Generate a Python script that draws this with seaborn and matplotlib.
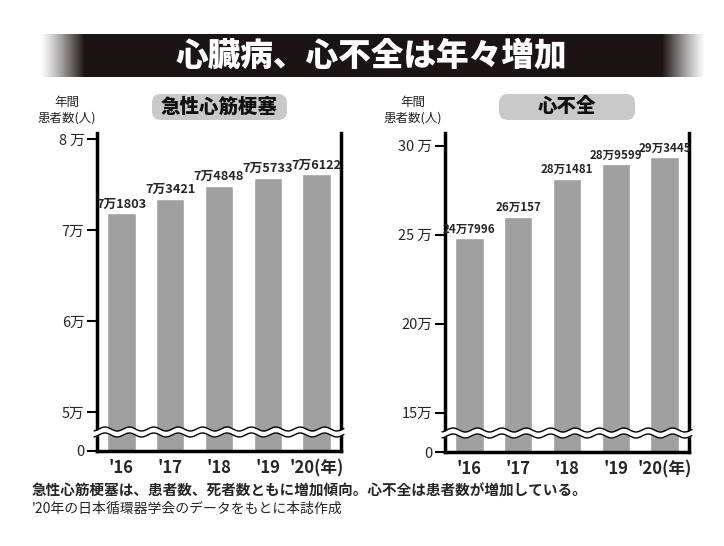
import numpy as np
import matplotlib
matplotlib.use("Agg")
import matplotlib.pyplot as plt
from matplotlib.patches import FancyBboxPatch
from matplotlib.transforms import IdentityTransform
import seaborn as sns

# ---------------- data ----------------
years = ["'16", "'17", "'18", "'19", "'20(年)"]
ami_values = [71803, 73421, 74848, 75733, 76122]          # 急性心筋梗塞
hf_values = [247996, 260157, 281481, 289599, 293445]      # 心不全
ami_ticks = [0, 50000, 60000, 70000, 80000]
ami_ticklabels = ["0", "5万", "6万", "7万", "8 万"]
hf_ticks = [0, 150000, 200000, 250000, 300000]
hf_ticklabels = ["0", "15万", "20万", "25 万", "30 万"]
title = "心臓病、心不全は年々増加"
panel_titles = ["急性心筋梗塞", "心不全"]
ylabel = "年間\n患者数(人)"
caption1 = "急性心筋梗塞は、患者数、死者数ともに増加傾向。心不全は患者数が増加している。"
caption2 = "'20年の日本循環器学会のデータをもとに本誌作成"

sns.set_theme(style="white")
CJK = ["Noto Sans CJK JP", "DejaVu Sans"]
plt.rcParams["font.family"] = CJK

W, H = 724, 546
fig = plt.figure(figsize=(W / 100, H / 100), dpi=100)
fig.patch.set_facecolor("white")


def px_rect(x0, y0, x1, y1):
    return [x0 / W, 1 - y1 / H, (x1 - x0) / W, (y1 - y0) / H]


# ---------------- banner ----------------
bax = fig.add_axes(px_rect(40, 34, 705, 77))
bax.set_axis_off()
n = 665
xs = np.arange(n) + 40
alpha = np.ones(n)
alpha = np.where(xs < 84, (xs - 40) / 44.0, alpha)
alpha = np.where(xs > 662, (705 - xs) / 43.0, alpha)
alpha = np.clip(alpha, 0, 1) ** 1.2
rgba = np.zeros((1, n, 4))
rgba[..., 0] = 0.11
rgba[..., 1] = 0.08
rgba[..., 2] = 0.08
rgba[..., 3] = alpha
bax.imshow(rgba, aspect="auto", extent=(0, 1, 0, 1))
bax.set_xlim(0, 1)
bax.set_ylim(0, 1)
fig.text(371 / W, 1 - 56 / H, title, color="white", fontsize=23.5,
         fontweight="black", ha="center", va="center")


def make_scale(base, unit, gap):
    def fwd(v):
        v = np.asarray(v, dtype=float)
        return np.where(v <= base, v / base * gap, gap + (v - base) / unit)

    def inv(t):
        t = np.asarray(t, dtype=float)
        return np.where(t <= gap, t / gap * base, base + (t - gap) * unit)

    return fwd, inv


def fmt(v):
    return f"{v // 10000}万{v % 10000}"


panels = [
    dict(rect=px_rect(97, 133, 341, 451), vals=ami_values, ticks=ami_ticks,
         tlabels=ami_ticklabels, scale=(50000, 10000, 0.43), ymax=80650,
         title=panel_titles[0], box=(152, 94, 287, 120), ylab_x=67, lfs=9.2),
    dict(rect=px_rect(445, 133, 689, 452), vals=hf_values, ticks=hf_ticks,
         tlabels=hf_ticklabels, scale=(150000, 50000, 0.44), ymax=307200,
         title=panel_titles[1], box=(499, 94, 635, 120), ylab_x=413, lfs=8.3),
]

for p in panels:
    ax = fig.add_axes(p["rect"])
    fwd, inv = make_scale(*p["scale"])
    ax.set_yscale("function", functions=(fwd, inv))
    sns.barplot(x=years, y=p["vals"], color="#a0a0a0", saturation=1,
                width=0.58, ax=ax, zorder=2)
    ax.set_xlim(-0.5, 4.5)
    ax.set_ylim(0, p["ymax"])
    ax.set_yticks(p["ticks"])
    ax.set_yticklabels(p["tlabels"], fontsize=10.5)
    ax.set_xticks(range(len(years)))
    ax.set_xticklabels(years, fontsize=12, fontweight="bold")
    ax.set_xlabel("")
    ax.set_ylabel("")
    ax.set_facecolor("white")
    ax.tick_params(axis="y", direction="out", length=7, width=1.5,
                   left=True, color="black", pad=2)
    ax.tick_params(axis="x", length=0, pad=6)
    for s in ["left", "right", "bottom"]:
        ax.spines[s].set_visible(True)
        ax.spines[s].set_color("black")
        ax.spines[s].set_linewidth(2.5)
    ax.spines["top"].set_visible(False)

    ax.bar_label(ax.containers[0], labels=[fmt(v) for v in p["vals"]],
                 padding=2, fontsize=p["lfs"], fontweight="bold")

    # wavy axis break
    axh = (p["rect"][3]) * H
    axw = (p["rect"][2]) * W
    x = np.linspace(-0.012, 1.012, 800)
    yc = 19 / axh
    amp = 2.0 / axh
    half = 3.0 / axh
    wave = amp * np.sin(2 * np.pi * (x * axw - 8) / 24.4 + np.pi / 2)
    ax.fill_between(x, yc - half + wave, yc + half + wave, color="white",
                    transform=ax.transAxes, zorder=5, clip_on=False, lw=0)
    ax.plot(x, yc + half + wave, color="black", lw=1.0,
            transform=ax.transAxes, zorder=6, clip_on=False)
    ax.plot(x, yc - half + wave, color="black", lw=1.0,
            transform=ax.transAxes, zorder=6, clip_on=False)

    # panel title box
    x0, y0, x1, y1 = p["box"]
    box = FancyBboxPatch((x0, H - y1), x1 - x0, y1 - y0,
                         boxstyle="round,pad=0,rounding_size=9",
                         fc="#c9c9c9", ec="none", transform=IdentityTransform())
    fig.patches.append(box)
    fig.text((x0 + x1) / 2 / W, 1 - (y0 + y1) / 2 / H, p["title"],
             fontsize=14, fontweight="black", ha="center", va="center",
             color="#111111")
    fig.text(p["ylab_x"] / W, 1 - 110 / H, ylabel, fontsize=9,
             ha="center", va="center", linespacing=1.25)

fig.text(32 / W, 1 - 491 / H, caption1, fontsize=10.5, fontweight="bold",
         ha="left", va="center")
fig.text(32 / W, 1 - 509 / H, caption2, fontsize=10, ha="left",
         va="center")

fig.savefig("out.png", dpi=100, facecolor="white")
